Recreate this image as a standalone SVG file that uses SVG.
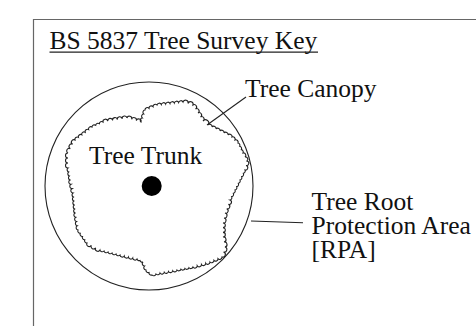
<svg xmlns="http://www.w3.org/2000/svg" width="476" height="326" viewBox="0 0 476 326">
<style>
.t{font-family:"Liberation Serif","Times New Roman",serif;font-size:25.5px;fill:#111}
.ln{stroke:#222;stroke-width:1.1;fill:none}
</style>
<rect width="476" height="326" fill="#fff"/>
<g id="frame"><path d="M33.5,326 V19.5 H476" fill="none" stroke="#666" stroke-width="1.2"/></g>
<g id="title">
<text class="t" x="49.5" y="49.3" font-size="26.2">BS 5837 Tree Survey Key</text>
<line x1="49.5" y1="52.2" x2="318" y2="52.2" stroke="#222" stroke-width="1.3"/>
</g>
<g id="rpa"><circle cx="149" cy="186" r="104" class="ln"/></g>
<g id="canopy"><path class="ln" stroke-width="1.2" d="M68,153
a2.3 2.3 0 0 1 2.333 -4.333 a2.3 2.3 0 0 1 2.333 -4.333 a2.3 2.3 0 0 1 2.333 -4.333
a2.3 2.3 0 0 1 3.4 -2.6 a2.3 2.3 0 0 1 3.4 -2.6 a2.3 2.3 0 0 1 3.4 -2.6 a2.3 2.3 0 0 1 3.4 -2.6 a2.3 2.3 0 0 1 3.4 -2.6
a2.3 2.3 0 0 1 3.667 -1.667 a2.3 2.3 0 0 1 3.667 -1.667 a2.3 2.3 0 0 1 3.667 -1.667
a2.3 2.3 0 0 1 4.8 -0.8 a2.3 2.3 0 0 1 4.8 -0.8 a2.3 2.3 0 0 1 4.8 -0.8 a2.3 2.3 0 0 1 4.8 -0.8 a2.3 2.3 0 0 1 4.8 -0.8
a2.3 2.3 0 0 1 4.667 1.333 a2.3 2.3 0 0 1 4.667 1.333 a2.3 2.3 0 0 1 4.667 1.333
a2.3 2.3 0 0 1 1.333 -4 a2.3 2.3 0 0 1 1.333 -4 a2.3 2.3 0 0 1 1.333 -4
a2.3 2.3 0 0 1 4 -1.667 a2.3 2.3 0 0 1 4 -1.667 a2.3 2.3 0 0 1 4 -1.667
a2.3 2.3 0 0 1 4.333 -0.5 a2.3 2.3 0 0 1 4.333 -0.5 a2.3 2.3 0 0 1 4.333 -0.5 a2.3 2.3 0 0 1 4.333 -0.5 a2.3 2.3 0 0 1 4.333 -0.5 a2.3 2.3 0 0 1 4.333 -0.5
a2.3 2.3 0 0 1 5 1.5 a2.3 2.3 0 0 1 5 1.5
a2.3 2.3 0 0 1 2.5 4 a2.3 2.3 0 0 1 2.5 4 a2.3 2.3 0 0 1 2.5 4 a2.3 2.3 0 0 1 2.5 4
a2.3 2.3 0 0 1 5 4
a2.3 2.3 0 0 1 4 2 a2.3 2.3 0 0 1 4 2 a2.3 2.3 0 0 1 4 2 a2.3 2.3 0 0 1 4 2 a2.3 2.3 0 0 1 4 2 a2.3 2.3 0 0 1 4 2
a2.3 2.3 0 0 1 3 3 a2.3 2.3 0 0 1 3 3
a2.3 2.3 0 0 1 1.667 3.333 a2.3 2.3 0 0 1 1.667 3.333 a2.3 2.3 0 0 1 1.667 3.333
a2.3 2.3 0 0 1 2 4 a2.3 2.3 0 0 1 2 4
a2.3 2.3 0 0 1 -1 4.5 a2.3 2.3 0 0 1 -1 4.5
a2.3 2.3 0 0 1 -1.667 3.333 a2.3 2.3 0 0 1 -1.667 3.333 a2.3 2.3 0 0 1 -1.667 3.333
a2.3 2.3 0 0 1 -1.667 3.333 a2.3 2.3 0 0 1 -1.667 3.333 a2.3 2.3 0 0 1 -1.667 3.333
a2.3 2.3 0 0 1 -1.667 3.333 a2.3 2.3 0 0 1 -1.667 3.333 a2.3 2.3 0 0 1 -1.667 3.333
a2.3 2.3 0 0 1 -1.667 4.333 a2.3 2.3 0 0 1 -1.667 4.333 a2.3 2.3 0 0 1 -1.667 4.333
a2.3 2.3 0 0 1 -1 5 a2.3 2.3 0 0 1 -1 5
a2.3 2.3 0 0 1 0 4.667 a2.3 2.3 0 0 1 0 4.667 a2.3 2.3 0 0 1 0 4.667
a2.3 2.3 0 0 1 1 5 a2.3 2.3 0 0 1 1 5
a2.3 2.3 0 0 1 -1.5 5 a2.3 2.3 0 0 1 -1.5 5
a2.3 2.3 0 0 1 -4 1.667 a2.3 2.3 0 0 1 -4 1.667 a2.3 2.3 0 0 1 -4 1.667
a2.3 2.3 0 0 1 -4.25 1.25 a2.3 2.3 0 0 1 -4.25 1.25 a2.3 2.3 0 0 1 -4.25 1.25 a2.3 2.3 0 0 1 -4.25 1.25
a2.3 2.3 0 0 1 -4 0.75 a2.3 2.3 0 0 1 -4 0.75 a2.3 2.3 0 0 1 -4 0.75 a2.3 2.3 0 0 1 -4 0.75
a2.3 2.3 0 0 1 -4.25 0.75 a2.3 2.3 0 0 1 -4.25 0.75 a2.3 2.3 0 0 1 -4.25 0.75 a2.3 2.3 0 0 1 -4.25 0.75
a2.3 2.3 0 0 1 -4 1 a2.3 2.3 0 0 1 -4 1
a2.3 2.3 0 0 1 -3 -2.5 a2.3 2.3 0 0 1 -3 -2.5
a2.3 2.3 0 0 1 -1.5 -4 a2.3 2.3 0 0 1 -1.5 -4
a2.3 2.3 0 0 1 -3 -1.5 a2.3 2.3 0 0 1 -3 -1.5
a2.3 2.3 0 0 1 -4.25 -1 a2.3 2.3 0 0 1 -4.25 -1 a2.3 2.3 0 0 1 -4.25 -1 a2.3 2.3 0 0 1 -4.25 -1
a2.3 2.3 0 0 1 -4 -1 a2.3 2.3 0 0 1 -4 -1 a2.3 2.3 0 0 1 -4 -1 a2.3 2.3 0 0 1 -4 -1 a2.3 2.3 0 0 1 -4 -1
a2.3 2.3 0 0 1 -4.333 -2.333 a2.3 2.3 0 0 1 -4.333 -2.333 a2.3 2.3 0 0 1 -4.333 -2.333
a2.3 2.3 0 0 1 -2.25 -3.25 a2.3 2.3 0 0 1 -2.25 -3.25 a2.3 2.3 0 0 1 -2.25 -3.25 a2.3 2.3 0 0 1 -2.25 -3.25
a2.3 2.3 0 0 1 -0.75 -4.25 a2.3 2.3 0 0 1 -0.75 -4.25 a2.3 2.3 0 0 1 -0.75 -4.25 a2.3 2.3 0 0 1 -0.75 -4.25
a2.3 2.3 0 0 1 -0.4 -4 a2.3 2.3 0 0 1 -0.4 -4 a2.3 2.3 0 0 1 -0.4 -4 a2.3 2.3 0 0 1 -0.4 -4 a2.3 2.3 0 0 1 -0.4 -4
a2.3 2.3 0 0 1 -1 -4.333 a2.3 2.3 0 0 1 -1 -4.333 a2.3 2.3 0 0 1 -1 -4.333
a2.3 2.3 0 0 1 -0.667 -4 a2.3 2.3 0 0 1 -0.667 -4 a2.3 2.3 0 0 1 -0.667 -4
a2.3 2.3 0 0 1 0 -5 a2.3 2.3 0 0 1 0 -5 a2.3 2.3 0 0 1 0 -5 Z"/></g>
<g id="trunk"><circle cx="151.7" cy="186" r="10" fill="#000"/></g>
<g id="connectors">
<line class="ln" x1="246" y1="97" x2="207" y2="125"/>
<line class="ln" x1="251" y1="221" x2="303" y2="222.7"/>
</g>
<g id="label-canopy"><text class="t" x="245" y="96.5">Tree Canopy</text></g>
<g id="label-trunk"><text class="t" x="89" y="164.3">Tree Trunk</text></g>
<g id="label-rpa"><text class="t" x="311.5"><tspan x="311.5" y="210">Tree Root</tspan><tspan x="311.5" y="234">Protection Area</tspan><tspan x="311.5" y="258">[RPA]</tspan></text></g>
</svg>
